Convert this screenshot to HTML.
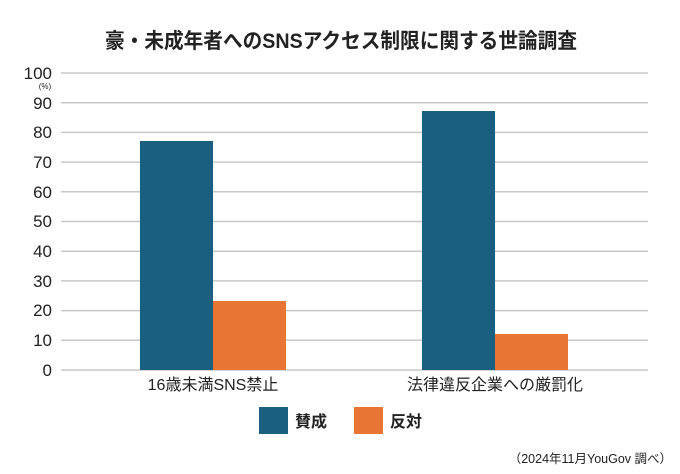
<!DOCTYPE html>
<html><head><meta charset="utf-8"><style>
html,body{margin:0;padding:0;background:#fff;}
svg{display:block;}
text{font-family:"Liberation Sans","Noto Sans CJK JP",sans-serif;fill:#222;}
</style></head><body>
<svg width="680" height="474" viewBox="0 0 680 474" xmlns="http://www.w3.org/2000/svg">
<rect width="680" height="474" fill="#fff"/>
<text x="341" y="48" font-size="21" font-weight="bold" text-anchor="middle" textLength="472" lengthAdjust="spacingAndGlyphs">豪・未成年者へのSNSアクセス制限に関する世論調査</text>
<g stroke="#c8c8c8" stroke-width="1.5">
<line x1="61" x2="648" y1="73" y2="73"/>
<line x1="61" x2="648" y1="102.7" y2="102.7"/>
<line x1="61" x2="648" y1="132.4" y2="132.4"/>
<line x1="61" x2="648" y1="162.1" y2="162.1"/>
<line x1="61" x2="648" y1="191.8" y2="191.8"/>
<line x1="61" x2="648" y1="221.5" y2="221.5"/>
<line x1="61" x2="648" y1="251.2" y2="251.2"/>
<line x1="61" x2="648" y1="280.9" y2="280.9"/>
<line x1="61" x2="648" y1="310.6" y2="310.6"/>
<line x1="61" x2="648" y1="340.3" y2="340.3"/>
<line x1="61" x2="648" y1="370" y2="370"/>
</g>
<g font-size="17" text-anchor="end">
<text x="52" y="79">100</text>
<text x="52" y="109">90</text>
<text x="52" y="138">80</text>
<text x="52" y="168">70</text>
<text x="52" y="198">60</text>
<text x="52" y="227">50</text>
<text x="52" y="257">40</text>
<text x="52" y="287">30</text>
<text x="52" y="316">20</text>
<text x="52" y="346">10</text>
<text x="52" y="376">0</text>
</g>
<text x="45" y="89" font-size="8" text-anchor="middle">(%)</text>
<rect x="140" y="141" width="73" height="229" fill="#1a5f80"/>
<rect x="213" y="301" width="73" height="69" fill="#e87533"/>
<rect x="422" y="111" width="73" height="259" fill="#1a5f80"/>
<rect x="495" y="334" width="73" height="36" fill="#e87533"/>
<text x="213" y="390" font-size="16" text-anchor="middle">16歳未満SNS禁止</text>
<text x="495" y="390" font-size="16" text-anchor="middle">法律違反企業への厳罰化</text>
<rect x="259" y="407" width="29" height="27" fill="#1a5f80"/>
<text x="295" y="427" font-size="16" font-weight="bold">賛成</text>
<rect x="354" y="407" width="29" height="27" fill="#e87533"/>
<text x="390" y="427" font-size="16" font-weight="bold">反対</text>
<text x="672" y="463" font-size="12.5" text-anchor="end">（2024年11月YouGov 調べ）</text>
</svg>
</body></html>
